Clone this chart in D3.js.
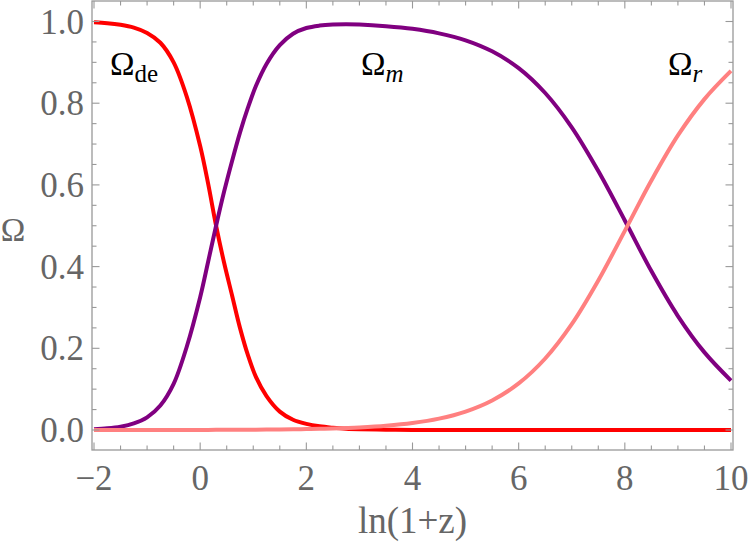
<!DOCTYPE html>
<html><head><meta charset="utf-8">
<script src="https://cdn.jsdelivr.net/npm/d3@7"></script>
<style>body{margin:0;background:#fff}svg{display:block}</style>
</head><body>
<svg id="c" width="750" height="555"></svg>
<script>
// ---- data ----
const xGrid  = [-2,-1.75,-1.5,-1.25,-1,-0.75,-0.5,-0.25,0,0.15,0.3,0.45,0.6,0.75,0.9,1.05,1.25,1.5,1.75,2,2.25,2.5,2.75,3,3.5,4,4.5,5,5.5,6,6.5,7,7.5,8,8.5,9,9.5,10];
const omegaDE = [0.998,0.996,0.992,0.985,0.972,0.948,0.900,0.815,0.695,0.603,0.500,0.410,0.330,0.250,0.183,0.130,0.083,0.045,0.025,0.015,0.009,0.0055,0.003,0.0018,0.0007,0.0003,0.0001,0,0,0,0,0,0,0,0,0,0,0];
const omegaM  = [0.002,0.004,0.008,0.016,0.031,0.060,0.113,0.205,0.325,0.412,0.500,0.583,0.658,0.728,0.789,0.842,0.896,0.942,0.970,0.984,0.990,0.9925,0.993,0.9925,0.9885,0.982,0.971,0.954,0.927,0.886,0.825,0.741,0.634,0.513,0.389,0.279,0.190,0.121];
const omegaR  = [0,0,0,0.0001,0.0001,0.0001,0.0001,0.0002,0.0003,0.0003,0.0004,0.0005,0.0006,0.0007,0.0008,0.0009,0.0011,0.0014,0.0018,0.0023,0.003,0.0039,0.005,0.0064,0.0105,0.0171,0.0279,0.0452,0.0724,0.114,0.175,0.259,0.366,0.4875,0.6106,0.721,0.810,0.879];
const xTicks = [-2,0,2,4,6,8,10];
const yTicks = [0,0.2,0.4,0.6,0.8,1.0];
const seriesNames = ["de","m","r"];

const svg = d3.select("#c");
const x = d3.scaleLinear().domain([-2,10]).range([94,731]);
const y = d3.scaleLinear().domain([0,1]).range([430,21.5]);
const frame = {l:92, r:733, t:1, b:450};
const gray = "#999", labelGray = "#666";

const line = d3.line().x(d=>x(d[0])).y(d=>y(d[1])).curve(d3.curveCatmullRom.alpha(0.5));
const series = [
  {v:omegaDE, c:"#ff0000"},
  {v:omegaM,  c:"#800080"},
  {v:omegaR,  c:"#ff8080"}
];
svg.append("clipPath").attr("id","cp").append("rect")
  .attr("x",frame.l).attr("y",frame.t).attr("width",frame.r-frame.l).attr("height",frame.b-frame.t);
const gL = svg.append("g").attr("clip-path","url(#cp)");
series.forEach(s=>{
  gL.append("path").datum(xGrid.map((xv,i)=>[xv,s.v[i]]))
    .attr("d",line).attr("fill","none").attr("stroke",s.c).attr("stroke-width",4);
});

svg.append("rect").attr("x",frame.l).attr("y",frame.t).attr("width",frame.r-frame.l).attr("height",frame.b-frame.t)
  .attr("fill","none").attr("stroke",gray).attr("stroke-width",1.3);

const xMinor = d3.range(-2,10.001,0.5).filter(v=>Math.abs(v/2-Math.round(v/2))>1e-6);
const yMinor = d3.range(0,1.0001,0.05).filter(v=>Math.abs(v/0.2-Math.round(v/0.2))>1e-6);
const tg = svg.append("g").attr("stroke",gray).attr("stroke-width",1.1);
function xt(v,len){
  tg.append("line").attr("x1",x(v)).attr("x2",x(v)).attr("y1",frame.b).attr("y2",frame.b-len);
  tg.append("line").attr("x1",x(v)).attr("x2",x(v)).attr("y1",frame.t).attr("y2",frame.t+len);
}
function yt(v,len){
  tg.append("line").attr("y1",y(v)).attr("y2",y(v)).attr("x1",frame.l).attr("x2",frame.l+len);
  tg.append("line").attr("y1",y(v)).attr("y2",y(v)).attr("x1",frame.r).attr("x2",frame.r-len);
}
xTicks.forEach(v=>xt(v,7.5)); xMinor.forEach(v=>xt(v,4.5));
yTicks.forEach(v=>yt(v,7.5)); yMinor.forEach(v=>yt(v,4.5));

const font = "Liberation Serif, Times New Roman, Times, serif";
svg.append("g").selectAll("text").data(xTicks).join("text")
  .attr("x",d=>x(d)).attr("y",490).attr("text-anchor","middle")
  .attr("font-family",font).attr("font-size",35).attr("fill",labelGray)
  .text(d=>d<0?"\u2212"+Math.abs(d):d);
svg.append("g").selectAll("text").data(yTicks).join("text")
  .attr("x",84).attr("y",d=>y(d)+12).attr("text-anchor","end")
  .attr("font-family",font).attr("font-size",35).attr("fill",labelGray)
  .text(d=>d.toFixed(1));

svg.append("text").attr("x",(frame.l+frame.r)/2).attr("y",533).attr("text-anchor","middle")
  .attr("font-family",font).attr("font-size",37).attr("fill",labelGray).text("ln(1+z)");
svg.append("text").attr("x",13).attr("y",241).attr("text-anchor","middle")
  .attr("font-family",font).attr("font-size",33).attr("fill",labelGray).text("\u03A9");

function lab(xp,yp,sub,italic){
  const t = svg.append("text").attr("x",xp).attr("y",yp).attr("font-family",font).attr("font-size",33).attr("fill","#000");
  t.append("tspan").text("\u03A9");
  t.append("tspan").attr("dy",7).attr("font-size",25).attr("font-style",italic?"italic":"normal").text(sub);
}
lab(110,75,seriesNames[0],false);
lab(361,75,seriesNames[1],true);
lab(668,75,seriesNames[2],true);
</script>
</body></html>
